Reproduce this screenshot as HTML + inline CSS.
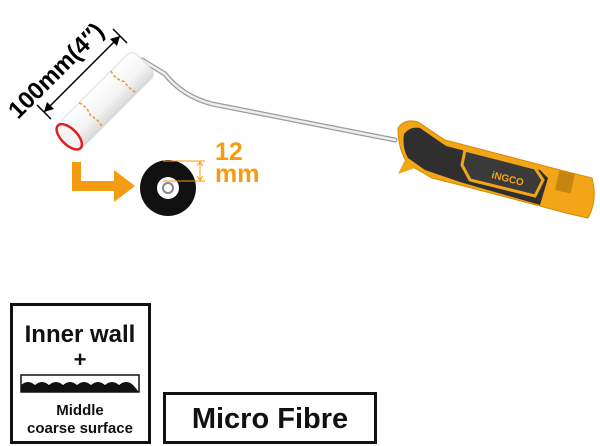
<!DOCTYPE html>
<html><head><style>
body{margin:0;background:#fff;}
svg{display:block;font-family:"Liberation Sans",sans-serif;}
</style></head><body>
<svg width="600" height="446" viewBox="0 0 600 446" xmlns="http://www.w3.org/2000/svg">
<defs>
<linearGradient id="rg" x1="0" y1="0" x2="0" y2="1">
<stop offset="0" stop-color="#ffffff"/><stop offset="0.6" stop-color="#f4f4f4"/><stop offset="1" stop-color="#d8d8d8"/>
</linearGradient>
</defs>
<!-- rod -->
<path d="M142,60 L165,74 Q182,96 212,104 L395,140" fill="none" stroke="#9a9a9a" stroke-width="5" stroke-linecap="round"/>
<path d="M142,60 L165,74 Q182,96 212,104 L395,140" fill="none" stroke="#eee" stroke-width="2.5" stroke-linecap="round"/>
<!-- handle -->
<g>
<path d="M398,128 Q405,118 418,122 L445,140 L560,170 L592,178 Q598,200 588,218 L570,214 L460,185 L432,178 L408,164 Q398,150 398,128 Z" fill="#f2a516" stroke="#d68a00" stroke-width="1"/>
<path d="M404,134 Q410,126 420,128 L446,146 L540,170 L548,178 L540,205 L460,182 L425,170 L408,158 Q402,148 404,134 Z" fill="#2f2f2f"/>
<path d="M465,150 L535,168 L543,180 L535,196 L470,180 L462,165 Z" fill="#3a3a3a" stroke="#f2a516" stroke-width="3"/>
<text x="492" y="180" font-size="10" font-weight="bold" fill="#f2a516" transform="rotate(14 500 175)">iNGCO</text>
<rect x="557" y="172" width="16" height="20" fill="#c88410" transform="rotate(12 565 182)"/>
<path d="M405,160 L398,174 L415,168 Z" fill="#f2a516"/>
</g>
<!-- roller -->
<g transform="rotate(-45 106 100)">
<rect x="52" y="83" width="108" height="34" rx="7" fill="url(#rg)" stroke="#ddd"/>
<path d="M85,83 q3,9 -1,17 q3,9 0,17 M130,83 q-3,9 2,17 q-2,9 1,17" stroke="#e8a030" stroke-width="1.6" fill="none" stroke-dasharray="3 2"/>
<ellipse cx="54" cy="100" rx="8" ry="16" fill="#f4f4f4" stroke="#e02020" stroke-width="2.5"/>
</g>
<!-- dimension -->
<line x1="44" y1="112" x2="120" y2="36" stroke="#000" stroke-width="1.5"/>
<path d="M44,112 l10,-3 l-7,-7 z M120,36 l-10,3 l7,7 z" fill="#000"/>
<line x1="37" y1="105" x2="51" y2="119" stroke="#000" stroke-width="1.5"/>
<line x1="113" y1="29" x2="127" y2="43" stroke="#000" stroke-width="1.5"/>
<text x="0" y="0" font-size="24" font-weight="bold" fill="#000" transform="translate(18,120) rotate(-45)">100mm(4″)</text>
<!-- orange arrow -->
<path d="M72,162 h9 v19 h33 v-11 l21,16 l-21,16 v-11 h-42 z" fill="#f39c12"/>
<!-- disk -->
<circle cx="168" cy="188" r="28" fill="#111"/>
<circle cx="168" cy="188" r="11" fill="#fff"/>
<circle cx="168" cy="188" r="5" fill="#fff" stroke="#888" stroke-width="2"/>
<line x1="163" y1="161" x2="205" y2="161" stroke="#f39c12" stroke-width="1"/>
<line x1="163" y1="181" x2="205" y2="181" stroke="#f39c12" stroke-width="1"/>
<line x1="200" y1="162" x2="200" y2="180" stroke="#f39c12" stroke-width="1"/>
<path d="M197,166 l3,-4 l3,4 M197,176 l3,4 l3,-4" stroke="#f39c12" fill="none"/>
<text x="215" y="160" font-size="25" font-weight="bold" fill="#f39c12">12</text>
<text x="215" y="182" font-size="25" font-weight="bold" fill="#f39c12">mm</text>
<!-- box 1 -->
<rect x="11.5" y="304.5" width="138" height="138" fill="none" stroke="#111" stroke-width="3"/>
<text x="80" y="342" font-size="24" font-weight="bold" text-anchor="middle" fill="#111">Inner wall</text>
<text x="80" y="367" font-size="22" font-weight="bold" text-anchor="middle" fill="#111">+</text>
<rect x="21" y="375" width="118" height="17" fill="#fff" stroke="#111" stroke-width="1.5"/>
<path d="M21,392 L21,385 q7,-6 14,0 q7,-6 14,0 q7,-6 14,0 q7,-6 14,0 q7,-6 14,0 q7,-6 14,0 q7,-6 14,0 q7,-6 14,0 L139,392 Z" fill="#111"/>
<text x="80" y="415" font-size="15" font-weight="bold" text-anchor="middle" fill="#111">Middle</text>
<text x="80" y="433" font-size="15" font-weight="bold" text-anchor="middle" fill="#111">coarse surface</text>
<!-- box 2 -->
<rect x="164.5" y="393.5" width="211" height="49" fill="none" stroke="#111" stroke-width="3"/>
<text x="270" y="428" font-size="29" font-weight="bold" text-anchor="middle" fill="#111">Micro Fibre</text>
</svg>
</body></html>
